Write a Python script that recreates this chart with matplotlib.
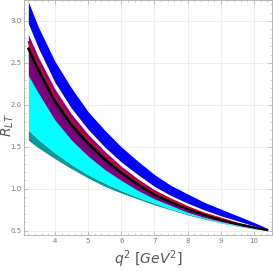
import matplotlib
matplotlib.use("Agg")
import matplotlib.pyplot as plt
import numpy as np
from matplotlib.ticker import MultipleLocator

# q^2 sample points (GeV^2)
q2 = [3.2, 3.5, 4.0, 4.5, 5.0, 5.5, 6.0, 6.5, 7.0, 7.5, 8.0, 8.5, 9.0, 9.5, 10.0, 10.4]

# blue band
blue_hi = [3.23, 2.93, 2.52, 2.20, 1.92, 1.70, 1.50, 1.33, 1.17, 1.04, 0.94, 0.84, 0.76, 0.68, 0.60, 0.53]
blue_lo = [2.97, 2.68, 2.27, 1.96, 1.71, 1.50, 1.32, 1.17, 1.03, 0.92, 0.83, 0.75, 0.68, 0.62, 0.56, 0.515]

# purple band + central lines
purple_hi = [2.84, 2.57, 2.19, 1.89, 1.65, 1.45, 1.27, 1.12, 0.99, 0.89, 0.80, 0.72, 0.66, 0.60, 0.55, 0.51]
red_line = [2.75, 2.49, 2.11, 1.82, 1.59, 1.40, 1.23, 1.09, 0.96, 0.87, 0.78, 0.71, 0.65, 0.59, 0.545, 0.51]
black_line = [2.67, 2.42, 2.04, 1.76, 1.54, 1.35, 1.19, 1.05, 0.93, 0.84, 0.76, 0.69, 0.63, 0.58, 0.54, 0.51]
dark_lo = [2.55, 2.31, 1.96, 1.69, 1.48, 1.30, 1.16, 1.025, 0.91, 0.825, 0.745, 0.68, 0.62, 0.575, 0.535, 0.507]
purple_lo = [2.35, 2.14, 1.82, 1.58, 1.39, 1.23, 1.10, 0.98, 0.88, 0.80, 0.72, 0.66, 0.61, 0.57, 0.53, 0.505]

# cyan / teal band
cyan_lo = [1.70, 1.59, 1.43, 1.29, 1.17, 1.07, 0.98, 0.90, 0.83, 0.76, 0.70, 0.65, 0.60, 0.56, 0.53, 0.50]
teal_lo = [1.58, 1.49, 1.36, 1.24, 1.13, 1.03, 0.95, 0.88, 0.81, 0.75, 0.69, 0.64, 0.595, 0.555, 0.525, 0.50]

fig = plt.figure(figsize=(2.73, 2.73), dpi=100)
ax = fig.add_axes([0.088, 0.139, 0.908, 0.861])

ax.fill_between(q2, teal_lo, cyan_lo, color='#009c9c', lw=0)
ax.fill_between(q2, cyan_lo, purple_lo, color='#00ffff', lw=0)
ax.fill_between(q2, purple_lo, purple_hi, color='#800080', lw=0)
ax.fill_between(q2, dark_lo, red_line, color='#5e125e', lw=0)
ax.fill_between(q2, blue_lo, blue_hi, color='#0000ff', lw=0)
ax.plot(q2, red_line, color='#ee0000', lw=1.0)
ax.plot(q2, black_line, color='black', lw=1.6)

ax.set_xlim(3.07, 10.54)
ax.set_ylim(0.45, 3.25)
ax.xaxis.set_major_locator(MultipleLocator(1))
ax.xaxis.set_minor_locator(MultipleLocator(0.2))
ax.yaxis.set_major_locator(MultipleLocator(0.5))
ax.yaxis.set_minor_locator(MultipleLocator(0.1))
ax.grid(True, which='major', color='#ebebeb', lw=0.6)
ax.set_axisbelow(True)

for s in ax.spines.values():
    s.set_color('#aaaaaa')
    s.set_linewidth(0.6)
ax.tick_params(which='both', direction='in', top=True, right=True,
               colors='#aaaaaa', labelcolor='#777777', labelsize=5, pad=2)
ax.tick_params(which='major', length=3, width=0.5)
ax.tick_params(which='minor', length=1.5, width=0.4)
ax.xaxis.set_major_formatter(plt.FuncFormatter(lambda v, p: '%d' % v))
ax.yaxis.set_major_formatter(plt.FuncFormatter(lambda v, p: '%.1f' % v))

ax.set_xlabel(r'$q^2\ [GeV^2]$', fontsize=10, color='#555555', labelpad=3)
fig.text(0.027, 1 - 125 / 273, r'$R_{LT}$', rotation=90, fontsize=10,
         color='#555555', ha='center', va='center')

fig.savefig('out.png', dpi=100)
